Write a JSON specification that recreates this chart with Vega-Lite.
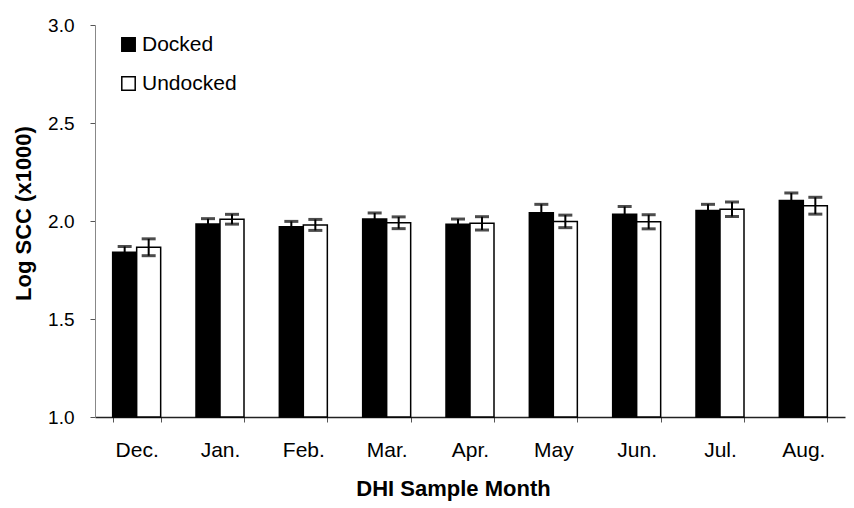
{
  "$schema": "https://vega.github.io/schema/vega-lite/v6.json",
  "width": 750,
  "height": 392,
  "autosize": "none",
  "padding": {"left": 95, "top": 25, "right": 9, "bottom": 91},
  "background": "white",
  "config": {
    "view": {"stroke": null},
    "font": "Liberation Sans",
    "axis": {"grid": false, "labelFont": "Liberation Sans", "titleFont": "Liberation Sans", "labelColor": "black", "titleColor": "black", "tickColor": "#555", "domainColor": "#555"}
  },
  "data": {
    "values": [
      {"month": "Dec.", "group": "Docked", "mean": 1.84, "lo": 1.81, "hi": 1.87},
      {"month": "Dec.", "group": "Undocked", "mean": 1.866, "lo": 1.823, "hi": 1.909},
      {"month": "Jan.", "group": "Docked", "mean": 1.985, "lo": 1.958, "hi": 2.012},
      {"month": "Jan.", "group": "Undocked", "mean": 2.009, "lo": 1.984, "hi": 2.034},
      {"month": "Feb.", "group": "Docked", "mean": 1.971, "lo": 1.944, "hi": 1.998},
      {"month": "Feb.", "group": "Undocked", "mean": 1.98, "lo": 1.952, "hi": 2.008},
      {"month": "Mar.", "group": "Docked", "mean": 2.01, "lo": 1.979, "hi": 2.041},
      {"month": "Mar.", "group": "Undocked", "mean": 1.991, "lo": 1.961, "hi": 2.021},
      {"month": "Apr.", "group": "Docked", "mean": 1.983, "lo": 1.956, "hi": 2.01},
      {"month": "Apr.", "group": "Undocked", "mean": 1.988, "lo": 1.954, "hi": 2.022},
      {"month": "May", "group": "Docked", "mean": 2.042, "lo": 1.999, "hi": 2.085},
      {"month": "May", "group": "Undocked", "mean": 1.998, "lo": 1.966, "hi": 2.03},
      {"month": "Jun.", "group": "Docked", "mean": 2.034, "lo": 1.994, "hi": 2.074},
      {"month": "Jun.", "group": "Undocked", "mean": 1.996, "lo": 1.96, "hi": 2.032},
      {"month": "Jul.", "group": "Docked", "mean": 2.053, "lo": 2.021, "hi": 2.085},
      {"month": "Jul.", "group": "Undocked", "mean": 2.06, "lo": 2.023, "hi": 2.097},
      {"month": "Aug.", "group": "Docked", "mean": 2.105, "lo": 2.067, "hi": 2.143},
      {"month": "Aug.", "group": "Undocked", "mean": 2.078, "lo": 2.035, "hi": 2.121}
    ]
  },
  "encoding": {
    "x": {
      "field": "month", "type": "nominal", "sort": null,
      "scale": {"paddingInner": 0.424, "paddingOuter": 0.212},
      "axis": {"title": "DHI Sample Month", "labelAngle": 0, "labelFontSize": 21, "titleFontSize": 22, "titleFontWeight": "bold", "titleX": 358, "titleAlign": "center", "tickBand": "extent", "tickSize": 5, "labelPadding": 17, "titlePadding": 18, "domainColor": "#222", "domainWidth": 1.5}
    },
    "xOffset": {"field": "group", "type": "nominal", "sort": ["Docked", "Undocked"], "scale": {"paddingInner": 0, "paddingOuter": 0}}
  },
  "layer": [
    {
      "mark": {"type": "bar", "stroke": "black", "strokeWidth": 1.5},
      "encoding": {
        "y": {
          "field": "mean", "type": "quantitative",
          "scale": {"domain": [1, 3], "zero": false, "nice": false},
          "axis": {"title": "Log SCC (x1000)", "values": [1, 1.5, 2, 2.5, 3], "format": ".1f", "labelFontSize": 19, "titleFontSize": 22, "titleFontWeight": "bold", "titleY": 188, "titleAlign": "center", "tickSize": 5, "labelPadding": 16, "titlePadding": 12, "domainColor": "#888"}
        },
        "y2": {"datum": 1},
        "fill": {
          "field": "group", "type": "nominal",
          "scale": {"domain": ["Docked", "Undocked"], "range": ["black", "white"]},
          "legend": {"title": null, "orient": "none", "legendX": 23, "legendY": 9, "symbolType": "square", "symbolSize": 180, "symbolStrokeColor": "black", "symbolStrokeWidth": 1.5, "labelFontSize": 21, "labelColor": "black", "rowPadding": 17, "labelOffset": 3}
        }
      }
    },
    {
      "mark": {"type": "rule", "color": "black", "strokeWidth": 2},
      "encoding": {
        "y": {"field": "lo", "type": "quantitative"},
        "y2": {"field": "hi"}
      }
    },
    {
      "mark": {"type": "tick", "color": "black", "thickness": 3, "size": 14},
      "encoding": {"y": {"field": "lo", "type": "quantitative"}}
    },
    {
      "mark": {"type": "tick", "color": "black", "thickness": 3, "size": 14},
      "encoding": {"y": {"field": "hi", "type": "quantitative"}}
    }
  ]
}
